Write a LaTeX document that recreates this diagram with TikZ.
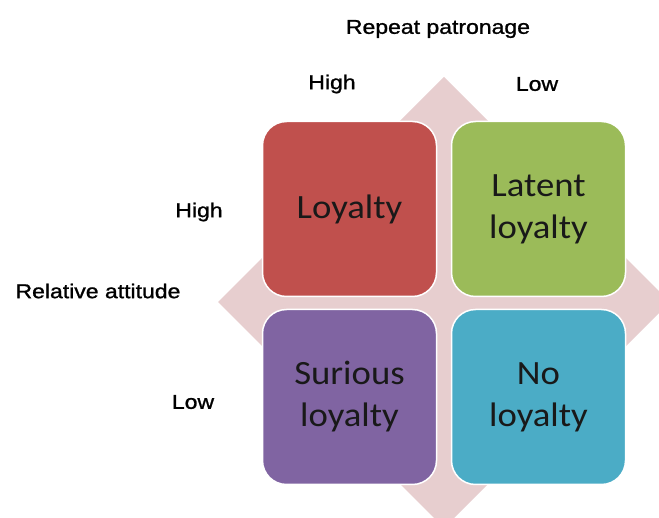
\documentclass[tikz,border=0pt]{standalone}
\usepackage{fontspec}
\newfontfamily\axisfont[FakeStretch=1.15,FakeBold=1.2]{Liberation Sans}
\newfontfamily\cellfont[FakeStretch=1.08]{Carlito}

\definecolor{diamondpink}{RGB}{231,206,207}
\definecolor{loyred}{RGB}{192,80,77}
\definecolor{loygreen}{RGB}{155,187,89}
\definecolor{loypurple}{RGB}{128,100,162}
\definecolor{loyblue}{RGB}{75,172,198}

\begin{document}
\begin{tikzpicture}[x=1pt,y=-1pt,
  cell/.style={rectangle, rounded corners=24pt, draw=white, line width=1.5pt,
    minimum width=174pt, minimum height=175pt, inner sep=0pt, align=center,
    font=\cellfont\fontsize{34}{42}\selectfont, text=black!90},
  axislabel/.style={inner sep=0pt, font=\axisfont\fontsize{20}{24}\selectfont, text=black}]

\useasboundingbox (0,0) rectangle (659,518);
\clip (0,0) rectangle (659,518);

% background diamond
\fill[diamondpink] (444,77) -- (670,302) -- (444,528) -- (218,302) -- cycle;

% the four cells
\node[cell, fill=loyred]    (loyalty) at (349.5,209) {Loyalty};
\node[cell, fill=loygreen]  (latent)  at (538.5,209) {Latent\\loyalty};
\node[cell, fill=loypurple] (surious) at (349.5,397) {Surious\\loyalty};
\node[cell, fill=loyblue]   (noloy)   at (538.5,397) {No\\loyalty};

% axis labels
\node[axislabel] (patronage) at (438,29) {Repeat patronage};
\node[axislabel] (phigh) at (332,84) {High};
\node[axislabel] (plow)  at (537,84) {Low};

\node[axislabel] (attitude) at (98,291) {Relative attitude};
\node[axislabel] (ahigh) at (199,212) {High};
\node[axislabel] (alow)  at (193,402) {Low};

\end{tikzpicture}
\end{document}
